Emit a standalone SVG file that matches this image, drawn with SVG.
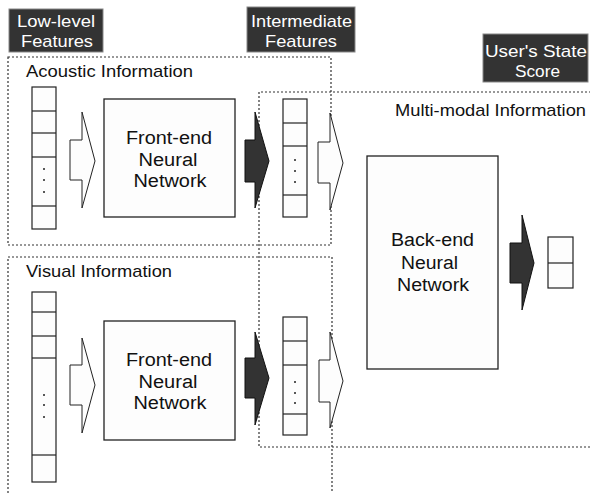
<svg xmlns="http://www.w3.org/2000/svg" width="590" height="493" viewBox="0 0 590 493">
<style>
text{font-family:"Liberation Sans",Arial,sans-serif;font-size:17px;fill:#111}
.lab rect{fill:#333;stroke:#888;stroke-width:1}
.lab text{fill:#fff;text-anchor:middle}
.dot{fill:none;stroke:#333;stroke-width:1.2;stroke-dasharray:2 2}
.box{fill:#fdfdfd;stroke:#222;stroke-width:1.3}
.vec rect{fill:#fdfdfd;stroke:#222;stroke-width:1.2}
.vec line{stroke:#222;stroke-width:1.2}
.vec circle{fill:#222}
.nn text{text-anchor:middle;font-size:18px}
.wa{fill:#fdfdfd;stroke:#222;stroke-width:1}
.da{fill:#333;stroke:#111;stroke-width:1}
</style>
<rect width="590" height="493" fill="#fff"/>
<g id="regions">
<rect class="dot" x="8" y="57" width="323" height="188"/>
<rect class="dot" x="8" y="257" width="324" height="250"/>
<path class="dot" d="M595 92 H259 V447 H595"/>
</g>
<g id="region-labels">
<text x="26" y="77" textLength="167" lengthAdjust="spacingAndGlyphs">Acoustic Information</text>
<text x="26" y="277" textLength="146" lengthAdjust="spacingAndGlyphs">Visual Information</text>
<text x="395" y="116" textLength="191" lengthAdjust="spacingAndGlyphs">Multi-modal Information</text>
</g>
<g id="label-lowlevel" class="lab">
<rect x="9" y="9" width="94" height="43"/>
<text x="56" y="27" textLength="78" lengthAdjust="spacingAndGlyphs">Low-level</text>
<text x="57" y="47" textLength="72" lengthAdjust="spacingAndGlyphs">Features</text>
</g>
<g id="label-intermediate" class="lab">
<rect x="247" y="7" width="108" height="45"/>
<text x="301.5" y="27" textLength="101" lengthAdjust="spacingAndGlyphs">Intermediate</text>
<text x="301" y="47" textLength="72" lengthAdjust="spacingAndGlyphs">Features</text>
</g>
<g id="label-score" class="lab">
<rect x="483" y="34" width="105" height="48"/>
<text x="536" y="57" textLength="102" lengthAdjust="spacingAndGlyphs">User's State</text>
<text x="537.5" y="77" textLength="45" lengthAdjust="spacingAndGlyphs">Score</text>
</g>
<g id="acoustic-input" class="vec">
<rect x="32" y="87" width="24" height="142"/>
<line x1="32" y1="111" x2="56" y2="111"/>
<line x1="32" y1="133" x2="56" y2="133"/>
<line x1="32" y1="157" x2="56" y2="157"/>
<line x1="32" y1="206" x2="56" y2="206"/>
<circle cx="44" cy="169" r="1"/><circle cx="44" cy="180" r="1"/><circle cx="44" cy="192" r="1"/>
</g>
<g id="acoustic-frontend" class="nn">
<rect class="box" x="104" y="99" width="131" height="118"/>
<text x="169" y="144" textLength="86" lengthAdjust="spacingAndGlyphs">Front-end</text>
<text x="168" y="166" textLength="59" lengthAdjust="spacingAndGlyphs">Neural</text>
<text x="170" y="187" textLength="73" lengthAdjust="spacingAndGlyphs">Network</text>
</g>
<g id="acoustic-intermediate" class="vec">
<rect x="283" y="99" width="24" height="118"/>
<line x1="283" y1="123" x2="307" y2="123"/>
<line x1="283" y1="146" x2="307" y2="146"/>
<line x1="283" y1="195" x2="307" y2="195"/>
<circle cx="295" cy="160" r="1"/><circle cx="295" cy="171" r="1"/><circle cx="295" cy="182" r="1"/>
</g>
<g id="visual-input" class="vec">
<rect x="32" y="292" width="24" height="190"/>
<line x1="32" y1="312" x2="56" y2="312"/>
<line x1="32" y1="336" x2="56" y2="336"/>
<line x1="32" y1="358" x2="56" y2="358"/>
<line x1="32" y1="455" x2="56" y2="455"/>
<circle cx="44" cy="395" r="1"/><circle cx="44" cy="405" r="1"/><circle cx="44" cy="417" r="1"/>
</g>
<g id="visual-frontend" class="nn">
<rect class="box" x="104" y="321" width="131" height="119"/>
<text x="169" y="366" textLength="86" lengthAdjust="spacingAndGlyphs">Front-end</text>
<text x="168" y="388" textLength="59" lengthAdjust="spacingAndGlyphs">Neural</text>
<text x="170" y="409" textLength="73" lengthAdjust="spacingAndGlyphs">Network</text>
</g>
<g id="visual-intermediate" class="vec">
<rect x="283" y="317" width="24" height="118"/>
<line x1="283" y1="341" x2="307" y2="341"/>
<line x1="283" y1="365" x2="307" y2="365"/>
<line x1="283" y1="414" x2="307" y2="414"/>
<circle cx="295" cy="382" r="1"/><circle cx="295" cy="393" r="1"/><circle cx="295" cy="403" r="1"/>
</g>
<g id="backend" class="nn">
<rect class="box" x="367" y="156" width="131" height="213"/>
<text x="432.5" y="246" textLength="83" lengthAdjust="spacingAndGlyphs">Back-end</text>
<text x="429.5" y="269" textLength="57" lengthAdjust="spacingAndGlyphs">Neural</text>
<text x="433" y="291" textLength="72" lengthAdjust="spacingAndGlyphs">Network</text>
</g>
<g id="output" class="vec">
<rect x="548" y="237" width="25" height="51"/>
<line x1="548" y1="263" x2="573" y2="263"/>
</g>
<g id="connectors">
<path class="wa" d="M70 140 H82 V112 L95 161 L82 208 V180 H70 Z"/>
<path class="da" d="M245 140 H255 V112 L269 161 L255 208 V182 H245 Z"/>
<path class="wa" d="M318 142 H330 V113 L343 163 L330 210 V183 H318 Z"/>
<path class="wa" d="M70 365 H82 V338 L95 385 L82 433 V405 H70 Z"/>
<path class="da" d="M245 358 H255 V332 L269 378 L255 425 V398 H245 Z"/>
<path class="wa" d="M319 360 H330 V332 L343 381 L330 428 V402 H319 Z"/>
<path class="da" d="M510 243 H522 V215 L534 263 L522 310 V283 H510 Z"/>
</g>
</svg>
